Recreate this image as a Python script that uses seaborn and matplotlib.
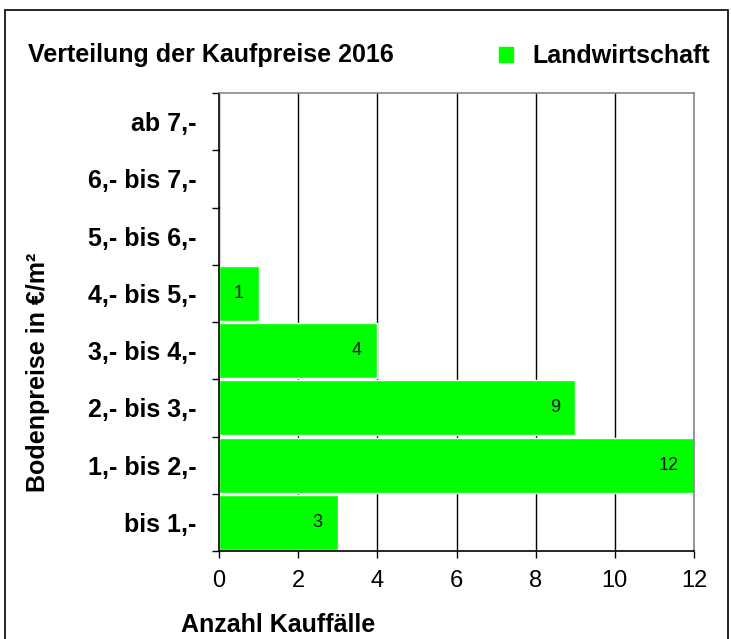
import pandas as pd
import matplotlib
matplotlib.use("Agg")
import matplotlib.pyplot as plt
import seaborn as sns

# Data (top to bottom as shown)
categories = ["ab 7,-", "6,- bis 7,-", "5,- bis 6,-", "4,- bis 5,-",
              "3,- bis 4,-", "2,- bis 3,-", "1,- bis 2,-", "bis 1,-"]
counts = [0, 0, 0, 1, 4, 9, 12, 3]
series_name = "Landwirtschaft"

df = pd.DataFrame({"Preisklasse": categories, "Anzahl": counts})

sns.set_style("white")
plt.rcParams["font.family"] = ["Liberation Sans", "DejaVu Sans"]
plt.rcParams.update({"text.color": "black", "xtick.color": "black",
                     "ytick.color": "black", "axes.labelcolor": "black"})

fig = plt.figure(figsize=(7.31, 6.39), dpi=100)
ax = fig.add_axes([219 / 731, 1 - 551 / 639, (694 - 219) / 731, (551 - 93) / 639])

sns.barplot(data=df, x="Anzahl", y="Preisklasse", order=categories,
            color="#00ff00", saturation=1, width=0.96, ax=ax, zorder=2)

ax.set_xlim(0, 12)
ax.set_xticks(range(0, 13, 2))
ax.grid(axis="x", color="black", linewidth=1, zorder=0)
ax.set_axisbelow(True)

# value labels near bar ends
for p, v in zip(ax.patches, counts):
    if v > 0:
        ax.annotate(str(v), (v, p.get_y() + p.get_height() / 2),
                    xytext=(-11, 0), textcoords="offset points",
                    ha="right", va="center", fontsize=13, color="#111111", zorder=3)

# frame of the plot
for side in ["left", "bottom"]:
    ax.spines[side].set_color("black")
    ax.spines[side].set_linewidth(1.2)
for side in ["top", "right"]:
    ax.spines[side].set_color("#888888")
    ax.spines[side].set_linewidth(1.2)

# y ticks between categories
ax.set_yticks([i + 0.5 for i in range(-1, len(categories))], minor=True)
ax.tick_params(axis="y", which="major", length=0, pad=16, labelsize=18)
ax.tick_params(axis="y", which="minor", length=5, width=1, color="black", left=True)
ax.tick_params(axis="x", length=5, width=1, color="black", bottom=True, labelsize=17, pad=9)
for lbl in ax.get_yticklabels():
    lbl.set_fontweight("bold")

ax.set_xlabel("")
ax.set_ylabel("")
fig.text(181 / 731, 1 - 625 / 639, "Anzahl Kauffälle", fontsize=18, fontweight="bold",
         ha="left", va="center")
fig.text(38 / 731, 1 - 372 / 639, "Bodenpreise in €/m²", fontsize=18, fontweight="bold",
         rotation=90, ha="center", va="center")

# title and legend
fig.text(28 / 731, 1 - 55 / 639, "Verteilung der Kaufpreise 2016", fontsize=18,
         fontweight="bold", ha="left", va="center")
handle = plt.Rectangle((0, 0), 1, 1, color="#00ff00")
fig.legend([handle], [series_name], loc="center left",
           bbox_to_anchor=(499 / 731, 1 - 56 / 639), frameon=False,
           borderpad=0, borderaxespad=0,
           prop={"size": 18, "weight": "bold"}, handlelength=0.55, handleheight=0.55,
           handletextpad=0.8)

# outer border
fig.patches.append(plt.Rectangle((5 / 731, -0.05), 723 / 731, 1 - 10 / 639 + 0.05,
                                 transform=fig.transFigure, fill=False,
                                 edgecolor="black", linewidth=1.2))

fig.savefig("out.png", dpi=100)
